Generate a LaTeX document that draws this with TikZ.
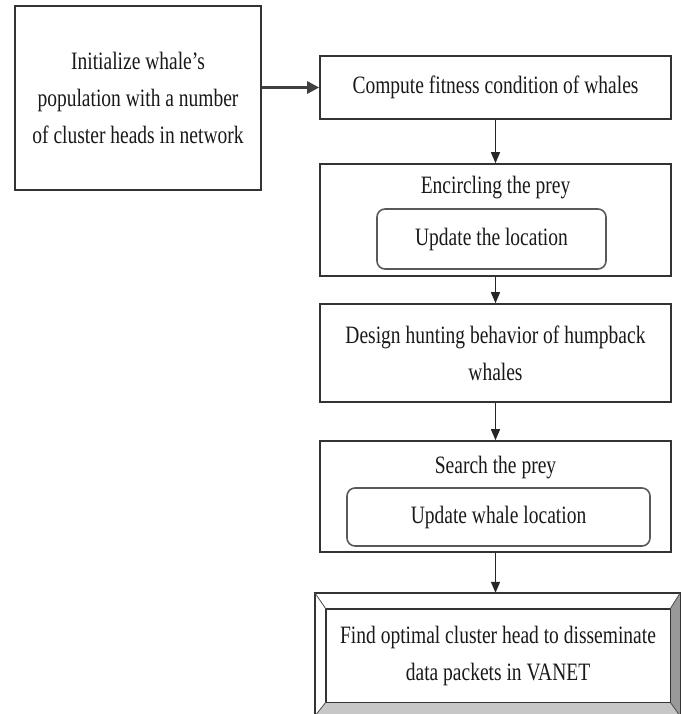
\documentclass[tikz,border=0pt]{standalone}
\usepackage{fontspec}
\setmainfont{Liberation Serif}[FakeStretch=0.78]
\usetikzlibrary{arrows.meta}
\begin{document}
\begin{tikzpicture}[x=1pt,y=-1pt,
  box/.style={draw=black!80, line width=1.6pt, inner sep=0pt},
  inbox/.style={draw=black!65, line width=1.6pt, rounded corners=8pt, inner sep=0pt},
  lbl/.style={font=\fontsize{25}{37}\selectfont, align=center, inner sep=0pt, text=black!90},
  arr/.style={-{Triangle[length=11pt,width=9pt]}, line width=1.3pt, draw=black!85},
  arrbig/.style={-{Triangle[length=12pt,width=12pt]}, line width=2.6pt, draw=black!75},
]
\path[use as bounding box] (0,0) rectangle (683,714);

% box 1
\node[box, minimum width=246pt, minimum height=184pt] (b1) at (138,98) {};
\node[lbl] (t1) at (b1.center) {Initialize whale’s\\population with a number\\of cluster heads in network};

% box 2
\node[box, minimum width=351pt, minimum height=63pt] (b2) at (495.5,87.5) {};
\node[lbl] (t2) at (b2.center) {Compute fitness condition of whales};

% box 3
\node[box, minimum width=351pt, minimum height=112pt] (b3) at (495.5,220) {};
\node[lbl] (t3) at (495.5,188) {Encircling the prey};
\node[inbox, minimum width=229pt, minimum height=60pt] (i3) at (491.5,239) {};
\node[lbl] (t3i) at (i3.center) {Update the location};

% box 4
\node[box, minimum width=351pt, minimum height=98pt] (b4) at (495.5,353) {};
\node[lbl] (t4) at (b4.center) {Design hunting behavior of humpback\\whales};

% box 5
\node[box, minimum width=351pt, minimum height=111pt] (b5) at (495.5,496.5) {};
\node[lbl] (t5) at (495.5,468) {Search the prey};
\node[inbox, minimum width=303pt, minimum height=58pt] (i5) at (498.5,517) {};
\node[lbl] (t5i) at (i5.center) {Update whale location};

% box 6 (bevelled frame)
\node[inner sep=0pt, minimum width=365pt, minimum height=123pt] (b6o) at (497.5,654.5) {};
\node[inner sep=0pt, minimum width=344pt, minimum height=93pt] (b6) at (498,655.5) {};
\fill[white] (b6o.north west) -- (b6o.north east) -- (b6.north east) -- (b6.north west) -- cycle;
\fill[white] (b6o.north west) -- (b6.north west) -- (b6.south west) -- (b6o.south west) -- cycle;
\fill[black!40] (b6o.north east) -- (b6o.south east) -- (b6.south east) -- (b6.north east) -- cycle;
\fill[black!22] (b6o.south west) -- (b6.south west) -- (b6.south east) -- (b6o.south east) -- cycle;
\draw[black!80, line width=1.4pt] (b6o.north west) rectangle (b6o.south east);
\draw[black!80, line width=1.4pt] (b6.north west) rectangle (b6.south east);
\draw[black!70, line width=0.8pt] (b6o.north west) -- (b6.north west) (b6o.north east) -- (b6.north east)
  (b6o.south west) -- (b6.south west) (b6o.south east) -- (b6.south east);
\node[lbl] (t6) at (b6.center) {Find optimal cluster head to disseminate\\data packets in VANET};

% arrows
\draw[arrbig] (b1.east |- b2.west) -- (b2.west);
\draw[arr] (b2.south) -- (b3.north);
\draw[arr] (b3.south) -- (b4.north);
\draw[arr] (b4.south) -- (b5.north);
\draw[arr] (b5.south) -- (b5.south |- b6o.north);
\end{tikzpicture}
\end{document}
